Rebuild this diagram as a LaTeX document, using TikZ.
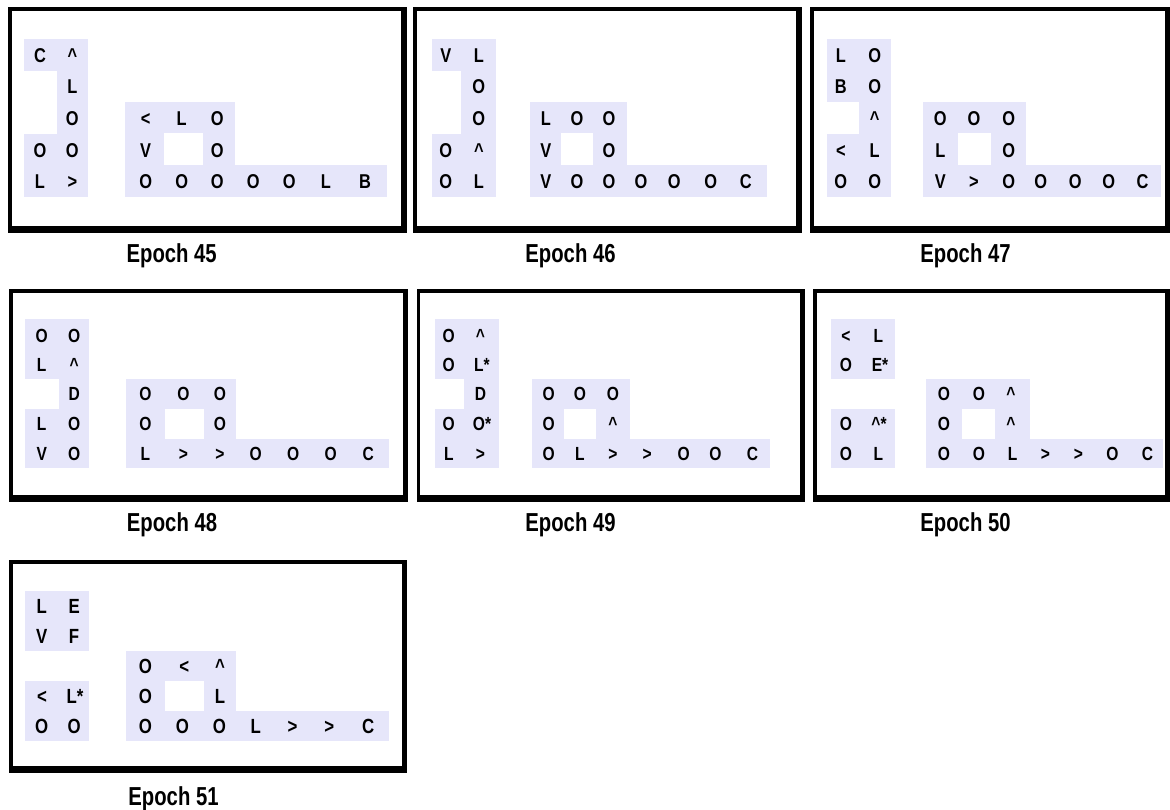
\documentclass[tikz,border=0pt]{standalone}
\usepackage{fontspec}
\setmainfont{Liberation Sans}[FakeStretch=0.82]
\newfontfamily\capfont{Liberation Sans}[FakeStretch=0.78]
\definecolor{lav}{RGB}{230,230,250}
\newcommand{\ca}{\textasciicircum}
\tikzset{
  cellA/.style={font=\bfseries\fontsize{20}{24}\selectfont, inner sep=0pt, anchor=base},
  cellB/.style={font=\bfseries\fontsize{19}{23}\selectfont, inner sep=0pt, anchor=base},
  cellC/.style={font=\bfseries\fontsize{20.5}{24}\selectfont, inner sep=0pt, anchor=base},
  capt/.style={font=\capfont\bfseries\fontsize{26}{30}\selectfont, inner sep=0pt, anchor=base},
  bg/.style={fill=lav},
  framefill/.style={fill=black}
}
\newcommand{\pframe}[4]{\fill[framefill] (#1,#2) rectangle (#3,#4); \fill[white] ({#1+3.7},{#2+4}) rectangle ({#3-5.5},{#4-7});}
\newcommand{\cells}[4]{\foreach \xx/\tx [count=\i] in {#4}{\node[#1] (#2\i) at (\xx,#3) {\tx};}}
\begin{document}
\begin{tikzpicture}[x=1pt,y=-1pt]
\useasboundingbox (0,0) rectangle (1170,809);
\fill[white] (0,0) rectangle (1170,809);
% frames
\pframe{8}{7.3}{406.7}{232.7}
\pframe{413.3}{7.3}{801.7}{232.7}
\pframe{810}{7.3}{1170}{232.7}
\pframe{9}{289.3}{408.3}{501.7}
\pframe{416.7}{289.3}{805}{501.7}
\pframe{813}{289.3}{1170}{501.7}
\pframe{9}{559.5}{407}{773.3}
% ---------- panel 1 (Epoch 45)
\fill[bg] (24,39) rectangle (57.3,70.6);
\fill[bg] (57.3,39) rectangle (87.7,196.7);
\fill[bg] (24,133.5) rectangle (57.3,196.7);
\fill[bg] (125,101.7) rectangle (235,165);
\fill[bg] (125,165) rectangle (386.7,196.7);
\fill[white] (164,133.3) rectangle (202.7,165);
\cells{cellA}{pa1-}{62.3}{40/C, 72.3/\ca}
\cells{cellA}{pa2-}{93.9}{72.3/L}
\cells{cellA}{pa3-}{125.5}{72.3/O, 145.7/<, 181.7/L, 217.3/O}
\cells{cellA}{pa4-}{157.1}{40/O, 72.3/O, 145.7/V, 217.3/O}
\cells{cellA}{pa5-}{188.7}{40/L, 72.3/>, 145.7/O, 181.7/O, 217.3/O, 253.3/O, 289.3/O, 326/L, 365/B}
% ---------- panel 2 (Epoch 46)
\fill[bg] (431.7,39) rectangle (461,70.6);
\fill[bg] (461,39) rectangle (496,196.7);
\fill[bg] (431.7,133.5) rectangle (461,196.7);
\fill[bg] (530,101.7) rectangle (626.7,165);
\fill[bg] (530,165) rectangle (766.7,196.7);
\fill[white] (560.7,133.3) rectangle (593.3,165);
\cells{cellA}{pb1-}{62.3}{445.8/V, 478.8/L}
\cells{cellA}{pb2-}{93.9}{478.8/O}
\cells{cellA}{pb3-}{125.5}{478.8/O, 545.8/L, 577/O, 609/O}
\cells{cellA}{pb4-}{157.1}{445.8/O, 478.8/\ca, 545.8/V, 609/O}
\cells{cellA}{pb5-}{188.7}{445.8/O, 478.8/L, 545.8/V, 577/O, 609/O, 641/O, 674.3/O, 710.8/O, 745.8/C}
% ---------- panel 3 (Epoch 47)
\fill[bg] (826.7,39) rectangle (859,101.7);
\fill[bg] (859,39) rectangle (891,196.7);
\fill[bg] (826.7,133.5) rectangle (859,196.7);
\fill[bg] (922.7,101.7) rectangle (1026,165);
\fill[bg] (922.7,165) rectangle (1160.7,196.7);
\fill[white] (957.7,133.3) rectangle (991,165);
\cells{cellA}{pc1-}{62.3}{840.8/L, 874.7/O}
\cells{cellA}{pc2-}{93.9}{840.8/B, 874.7/O}
\cells{cellA}{pc3-}{125.5}{874.7/\ca, 940.3/O, 974/O, 1008.7/O}
\cells{cellA}{pc4-}{157.1}{840.8/<, 874.7/L, 940.3/L, 1008.7/O}
\cells{cellA}{pc5-}{188.7}{840.8/O, 874.7/O, 940.3/V, 974/>, 1008.7/O, 1040.8/O, 1075.3/O, 1108.7/O, 1142.5/C}
% ---------- panel 4 (Epoch 48)
\fill[bg] (25,319) rectangle (59.3,379);
\fill[bg] (59.3,319) rectangle (89,468.3);
\fill[bg] (25,409) rectangle (59.3,468.3);
\fill[bg] (126,379) rectangle (236,439);
\fill[bg] (126,439) rectangle (389,468.3);
\fill[white] (165,409) rectangle (204,439);
\cells{cellB}{pd1-}{342}{41.7/O, 74.2/O}
\cells{cellB}{pd2-}{371}{41.7/L, 74.2/\ca}
\cells{cellB}{pd3-}{400.7}{74.2/D, 145.5/O, 183.5/O, 220/O}
\cells{cellB}{pd4-}{430.5}{41.7/L, 74.2/O, 145.5/O, 220/O}
\cells{cellB}{pd5-}{460.5}{41.7/V, 74.2/O, 145.5/L, 183.5/>, 220/>, 255.8/O, 293.3/O, 330.8/O, 368.3/C}
% ---------- panel 5 (Epoch 49)
\fill[bg] (435,319) rectangle (464,379);
\fill[bg] (464,319) rectangle (499,468.3);
\fill[bg] (435,409) rectangle (464,468.3);
\fill[bg] (531.7,379) rectangle (630,439);
\fill[bg] (531.7,439) rectangle (770,468.3);
\fill[white] (564,409) rectangle (596,439);
\cells{cellB}{pe1-}{342}{448.8/O, 480.5/\ca}
\cells{cellB}{pe2-}{371}{448.8/O, 482/L*}
\cells{cellB}{pe3-}{400.7}{480.5/D, 548.8/O, 580/O, 613/O}
\cells{cellB}{pe4-}{430.5}{448.8/O, 482/O*, 548.8/O, 613/\ca}
\cells{cellB}{pe5-}{460.5}{448.8/L, 480.5/>, 548.8/O, 580/L, 613/>, 647.2/>, 683.7/O, 715.5/O, 752.5/C}
% ---------- panel 6 (Epoch 50)
\fill[bg] (831,319) rectangle (895,379);
\fill[bg] (831,409) rectangle (895,468.3);
\fill[bg] (926,379) rectangle (1030,439);
\fill[bg] (926,439) rectangle (1163,468.3);
\fill[white] (961.7,409) rectangle (995,439);
\cells{cellB}{pf1-}{342}{845.8/<, 878.3/L}
\cells{cellB}{pf2-}{371}{845.8/O, 880/E*}
\cells{cellB}{pf3-}{400.7}{943.8/O, 978.8/O, 1011/\ca}
\cells{cellB}{pf4-}{430.5}{845.8/O, 879/\ca*, 943.8/O, 1011/\ca}
\cells{cellB}{pf5-}{460.5}{845.8/O, 878.3/L, 943.8/O, 978.8/O, 1012.5/L, 1045.5/>, 1078.3/>, 1112.5/O, 1147.5/C}
% ---------- panel 7 (Epoch 51)
\fill[bg] (25,590.7) rectangle (89,650.7);
\fill[bg] (25,680.7) rectangle (89,740.7);
\fill[bg] (126,650.7) rectangle (236,710.7);
\fill[bg] (126,710.7) rectangle (389,740.7);
\fill[white] (165,680.7) rectangle (204,710.7);
\cells{cellC}{pg1-}{613}{41.7/L, 74.3/E}
\cells{cellC}{pg2-}{643}{41.7/V, 74/F}
\cells{cellC}{pg3-}{673}{145.3/O, 184.2/<, 220/\ca}
\cells{cellC}{pg4-}{703}{42/<, 75/L*, 145.3/O, 220/L}
\cells{cellC}{pg5-}{733}{41.7/O, 74.2/O, 145.3/O, 182.5/O, 219.5/O, 255.8/L, 292.5/>, 329.2/>, 368.3/C}
% captions
\node[capt] (cap45) at (171.7,262.3) {Epoch 45};
\node[capt] (cap46) at (570.5,262.3) {Epoch 46};
\node[capt] (cap47) at (965.5,262.3) {Epoch 47};
\node[capt] (cap48) at (172,531.5) {Epoch 48};
\node[capt] (cap49) at (570.5,531.5) {Epoch 49};
\node[capt] (cap50) at (965.5,531.5) {Epoch 50};
\node[capt] (cap51) at (173.5,805) {Epoch 51};
\end{tikzpicture}
\end{document}
